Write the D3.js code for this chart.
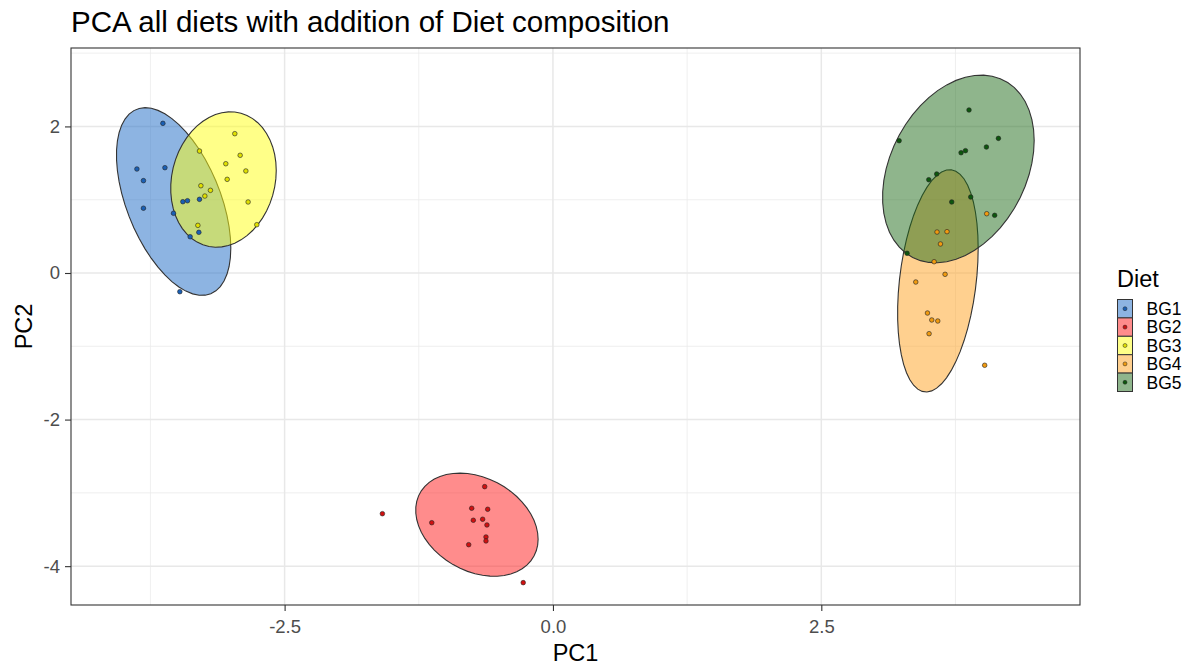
<!DOCTYPE html>
<html>
<head>
<meta charset="utf-8">
<script src="https://cdn.jsdelivr.net/npm/d3@7"></script>
<style>
  body { margin: 0; background: #fff; }
  text { font-family: "Liberation Sans", Arial, sans-serif; }
</style>
</head>
<body>
<svg id="chart" width="1195" height="666"></svg>
<script>
// ---------------- DATA ----------------
const diets = ["BG1", "BG2", "BG3", "BG4", "BG5"];
const xTicks = [-2.5, 0.0, 2.5];
const yTicks = [-4, -2, 0, 2];

const pc1_BG1 = [-3.634, -3.876, -3.615, -3.815, -3.815, -3.535, -3.448, -3.405, -3.293, -3.380, -3.299, -3.476];
const pc2_BG1 = [ 2.042,  1.419,  1.437,  1.260,  0.884,  0.815,  0.973,  0.986,  1.005,  0.495,  0.555, -0.255];

const pc1_BG2 = [-0.636, -1.589, -0.757, -0.608, -1.129, -0.742, -0.655, -0.615, -0.624, -0.624, -0.785, -0.277];
const pc2_BG2 = [-2.915, -3.284, -3.210, -3.224, -3.407, -3.374, -3.360, -3.438, -3.602, -3.656, -3.707, -4.225];

const pc1_BG3 = [-2.964, -3.293, -2.914, -3.048, -2.861, -3.035, -3.280, -3.191, -3.243, -2.840, -3.308, -2.759];
const pc2_BG3 = [ 1.901,  1.664,  1.606,  1.491,  1.392,  1.278,  1.191,  1.128,  1.050,  0.969,  0.650,  0.659];

const pc1_BG4 = [4.041, 3.578, 3.671, 3.610, 3.551, 3.653, 3.380, 3.489, 3.529, 3.585, 3.504, 4.022];
const pc2_BG4 = [0.809, 0.559, 0.564, 0.396, 0.154, -0.018, -0.123, -0.546, -0.641, -0.655, -0.828, -1.259];

const pc1_BG5 = [3.876, 3.225, 4.150, 4.038, 3.802, 3.843, 3.575, 3.501, 3.892, 3.715, 4.115, 3.299];
const pc2_BG5 = [2.224, 1.805, 1.837, 1.719, 1.641, 1.669, 1.351, 1.273, 1.037, 0.969, 0.787, 0.269];

// ---------------- STYLE ----------------
const fillColors  = ["#1b69c5", "#ff1919", "#ffff11", "#ffa11f", "#1f6b19"];
const pointColors = ["#1a5fb4", "#d01010", "#e0e000", "#f09a10", "#0d560d"];

const W = 1195, H = 666;
const panel = { left: 71, right: 1080, top: 48, bottom: 605 };
const FONT = "'Liberation Sans', Arial, sans-serif";

const svg = d3.select("#chart");

const x = d3.scaleLinear().domain([-4.49, 4.91]).range([panel.left, panel.right]);
const y = d3.scaleLinear().domain([-4.53, 3.07]).range([panel.bottom, panel.top]);

// -------- robust t covariance (MASS::cov.trob) + stat_ellipse --------
function covTrob(pts, nu = 5, maxit = 25, tol = 0.01) {
  const n = pts.length, p = 2;
  let loc = [d3.mean(pts, d => d[0]), d3.mean(pts, d => d[1])];
  let w = pts.map(() => 1);
  let X;
  for (let iter = 0; iter < maxit; iter++) {
    const w0 = w.slice();
    X = pts.map(d => [d[0] - loc[0], d[1] - loc[1]]);
    const sw = d3.sum(w);
    let s11 = 0, s12 = 0, s22 = 0;
    X.forEach((v, i) => { s11 += w[i] * v[0] * v[0]; s12 += w[i] * v[0] * v[1]; s22 += w[i] * v[1] * v[1]; });
    s11 /= sw; s12 /= sw; s22 /= sw;
    const det = s11 * s22 - s12 * s12;
    const i11 = s22 / det, i12 = -s12 / det, i22 = s11 / det;
    const Q = X.map(v => v[0] * v[0] * i11 + 2 * v[0] * v[1] * i12 + v[1] * v[1] * i22);
    w = Q.map(q => (nu + p) / (nu + q));
    const sw2 = d3.sum(w);
    loc = [d3.sum(pts, (d, i) => w[i] * d[0]) / sw2, d3.sum(pts, (d, i) => w[i] * d[1]) / sw2];
    if (w.every((wi, i) => Math.abs(wi - w0[i]) < tol)) break;
  }
  let c11 = 0, c12 = 0, c22 = 0;
  X.forEach((v, i) => { c11 += w[i] * v[0] * v[0]; c12 += w[i] * v[0] * v[1]; c22 += w[i] * v[1] * v[1]; });
  return { center: loc, cov: [c11 / n, c12 / n, c22 / n] };
}
function ellipsePath(pts, level = 0.95, segments = 51) {
  const n = pts.length;
  const { center, cov } = covTrob(pts);
  const d = n - 1;
  const qf = (d / 2) * (Math.pow(1 - level, -2 / d) - 1);
  const radius = Math.sqrt(2 * qf);
  const a = Math.sqrt(cov[0]);
  const b = cov[1] / a;
  const c = Math.sqrt(cov[2] - b * b);
  const out = [];
  for (let k = 0; k <= segments; k++) {
    const t = k * 2 * Math.PI / segments;
    const ct = Math.cos(t), st = Math.sin(t);
    out.push([center[0] + radius * a * ct, center[1] + radius * (b * ct + c * st)]);
  }
  return out;
}

const groups = [
  [pc1_BG1, pc2_BG1], [pc1_BG2, pc2_BG2], [pc1_BG3, pc2_BG3], [pc1_BG4, pc2_BG4], [pc1_BG5, pc2_BG5]
].map((g, gi) => ({ diet: diets[gi], i: gi, pts: g[0].map((v, k) => [v, g[1][k]]) }));

// ---------------- PANEL ----------------
const gridMinorX = [-3.75, -1.25, 1.25, 3.75];
const gridMinorY = [-3, -1, 1, 3];

svg.append("rect").attr("x", panel.left).attr("y", panel.top)
  .attr("width", panel.right - panel.left).attr("height", panel.bottom - panel.top)
  .attr("fill", "#fff");

const grid = svg.append("g");
grid.selectAll(".gmx").data(gridMinorX).enter().append("line")
  .attr("x1", d => x(d)).attr("x2", d => x(d)).attr("y1", panel.top).attr("y2", panel.bottom)
  .attr("stroke", "#ebebeb").attr("stroke-width", 0.8);
grid.selectAll(".gmy").data(gridMinorY).enter().append("line")
  .attr("y1", d => y(d)).attr("y2", d => y(d)).attr("x1", panel.left).attr("x2", panel.right)
  .attr("stroke", "#ebebeb").attr("stroke-width", 0.8);
grid.selectAll(".gx").data(xTicks).enter().append("line")
  .attr("x1", d => x(d)).attr("x2", d => x(d)).attr("y1", panel.top).attr("y2", panel.bottom)
  .attr("stroke", "#e8e8e8").attr("stroke-width", 1.5);
grid.selectAll(".gy").data(yTicks).enter().append("line")
  .attr("y1", d => y(d)).attr("y2", d => y(d)).attr("x1", panel.left).attr("x2", panel.right)
  .attr("stroke", "#e8e8e8").attr("stroke-width", 1.5);

// ---------------- ELLIPSES ----------------
const line = d3.line().x(d => x(d[0])).y(d => y(d[1]));
svg.append("clipPath").attr("id", "pclip").append("rect")
  .attr("x", panel.left).attr("y", panel.top)
  .attr("width", panel.right - panel.left).attr("height", panel.bottom - panel.top);
const plot = svg.append("g").attr("clip-path", "url(#pclip)");

plot.selectAll(".ell").data(groups).enter().append("path")
  .attr("d", g => line(ellipsePath(g.pts)) + "Z")
  .attr("fill", g => fillColors[g.i]).attr("fill-opacity", 0.5)
  .attr("stroke", "#333").attr("stroke-width", 1.1);

// ---------------- POINTS ----------------
groups.forEach(g => {
  plot.selectAll(".pt" + g.i).data(g.pts).enter().append("circle")
    .attr("cx", d => x(d[0])).attr("cy", d => y(d[1])).attr("r", 2.3)
    .attr("fill", pointColors[g.i]).attr("stroke", "#222").attr("stroke-width", 0.6);
});

// panel border
svg.append("rect").attr("x", panel.left).attr("y", panel.top)
  .attr("width", panel.right - panel.left).attr("height", panel.bottom - panel.top)
  .attr("fill", "none").attr("stroke", "#333").attr("stroke-width", 1.1);

// ---------------- AXES ----------------
const fmtX = d => d3.format(".1f")(d).replace("\u2212", "-");
const fmtY = d => d3.format("d")(d).replace("\u2212", "-");

const xAxis = d3.axisBottom(x).tickValues(xTicks).tickFormat(fmtX).tickSize(6).tickPadding(9);
const gx = svg.append("g").attr("transform", `translate(0,${panel.bottom})`).call(xAxis);
gx.select(".domain").remove();
gx.selectAll("line").attr("stroke", "#333").attr("stroke-width", 1.1);
gx.selectAll("text").attr("fill", "#4d4d4d").style("font-size", "18.5px").style("font-family", FONT);

const yAxis = d3.axisLeft(y).tickValues(yTicks).tickFormat(fmtY).tickSize(6).tickPadding(5);
const gy = svg.append("g").attr("transform", `translate(${panel.left},0)`).call(yAxis);
gy.select(".domain").remove();
gy.selectAll("line").attr("stroke", "#333").attr("stroke-width", 1.1);
gy.selectAll("text").attr("fill", "#4d4d4d").style("font-size", "18.5px").style("font-family", FONT);

// titles
svg.append("text").attr("x", panel.left).attr("y", 32)
  .style("font-size", "29.5px").attr("fill", "#000")
  .text("PCA all diets with addition of Diet composition");
svg.append("text").attr("x", (panel.left + panel.right) / 2).attr("y", 661)
  .attr("text-anchor", "middle").style("font-size", "23.5px").attr("fill", "#000").text("PC1");
svg.append("text").attr("transform", `translate(31.5,${(panel.top + panel.bottom) / 2}) rotate(-90)`)
  .attr("text-anchor", "middle").style("font-size", "23.5px").attr("fill", "#000").text("PC2");

// ---------------- LEGEND ----------------
const lg = svg.append("g").attr("transform", "translate(1117,0)");
lg.append("text").attr("x", 0).attr("y", 287).style("font-size", "23.5px").attr("fill", "#000").text("Diet");
const keyH = 18.4, keyW = 15, keyTop = 299.5;
diets.forEach((dname, i) => {
  const ky = keyTop + i * keyH;
  lg.append("rect").attr("x", 0.5).attr("y", ky).attr("width", keyW).attr("height", keyH)
    .attr("fill", "#fff");
  lg.append("rect").attr("x", 0.5).attr("y", ky).attr("width", keyW).attr("height", keyH)
    .attr("fill", fillColors[i]).attr("fill-opacity", 0.5).attr("stroke", "#333").attr("stroke-width", 1);
  lg.append("circle").attr("cx", 0.5 + keyW / 2).attr("cy", ky + keyH / 2).attr("r", 2)
    .attr("fill", pointColors[i]).attr("stroke", "#222").attr("stroke-width", 0.5);
  lg.append("text").attr("x", 29.5).attr("y", ky + keyH / 2 + 6.3).style("font-size", "17.5px")
    .attr("fill", "#000").text(dname);
});
</script>
</body>
</html>
